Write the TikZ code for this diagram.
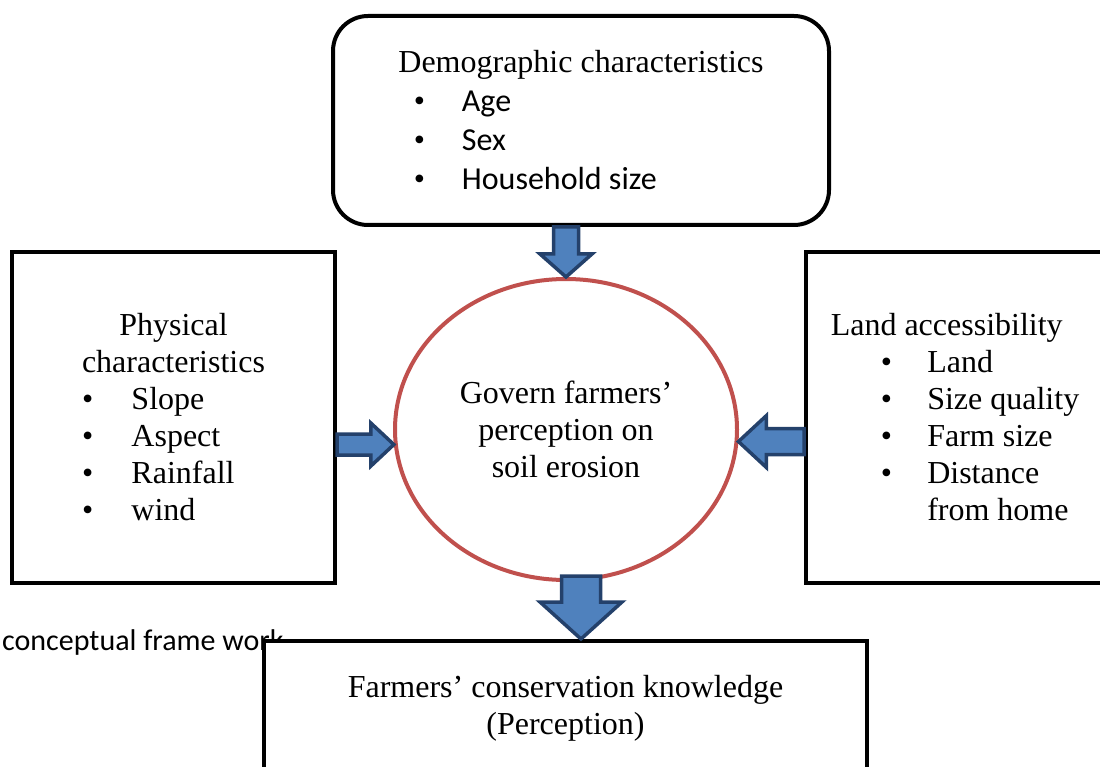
\documentclass[tikz,border=0pt]{standalone}
\usepackage{fontspec}
\setmainfont{Liberation Serif}
\newfontfamily\calibri{Carlito}
\usetikzlibrary{shapes,calc,positioning}
\definecolor{ovalred}{HTML}{C0504D}
\definecolor{arrowfill}{HTML}{4F81BD}
\definecolor{arrowedge}{HTML}{24416B}
\newcommand{\bitem}[3]{\makebox[#1][l]{\hspace{#2}{\rmfamily\textbullet}}#3}
\tikzset{
    box/.style = {draw, line width=4pt, fill=white, rectangle, inner sep=0pt},
    fatarrow/.style n args={3}{draw=arrowedge, fill=arrowfill, line width=3.5pt,
        to path={let \p1=(\tikztostart), \p2=(\tikztotarget), \p3=($(\p1)!1pt!(\p2)$) in
            ({\x1-#1*(\y3-\y1)},{\y1+#1*(\x3-\x1)})
            -- ({\x2-#3*(\x3-\x1)-#1*(\y3-\y1)},{\y2-#3*(\y3-\y1)+#1*(\x3-\x1)})
            -- ({\x2-#3*(\x3-\x1)-#2*(\y3-\y1)},{\y2-#3*(\y3-\y1)+#2*(\x3-\x1)})
            -- (\p2)
            -- ({\x2-#3*(\x3-\x1)+#2*(\y3-\y1)},{\y2-#3*(\y3-\y1)-#2*(\x3-\x1)})
            -- ({\x2-#3*(\x3-\x1)+#1*(\y3-\y1)},{\y2-#3*(\y3-\y1)-#1*(\x3-\x1)})
            -- ({\x1+#1*(\y3-\y1)},{\y1-#1*(\x3-\x1)})
            -- cycle}},
}
\begin{document}
\begin{tikzpicture}[x=1pt, y=-1pt, font=\fontsize{32}{37}\selectfont]
    \useasboundingbox (0,0) rectangle (1100,767);
    \clip (0,0) rectangle (1100,767);

    \node [anchor=base west, inner sep=0pt, font=\calibri\fontsize{30}{37}\selectfont] (caption) at (2,650) {conceptual frame work};
    \node [box, minimum width=603pt, minimum height=135pt, align=center] (goal) at (565.5,708.5) {Farmers’ conservation knowledge\\(Perception)};
    \node [ellipse, draw=ovalred, line width=4pt, fill=white, minimum width=342pt, minimum height=301pt, inner sep=0pt, align=center] (circ) at (566,429.5) {Govern farmers’\\perception on\\soil erosion};
    \node [box, rounded corners=35pt, minimum width=496pt, minimum height=209pt, align=left, font=\fontsize{32}{39}\selectfont] (demo) at (581,120.5)
        {Demographic characteristics\\
         {\calibri\bitem{63.5pt}{15.5pt}{Age}}\\
         {\calibri\bitem{63.5pt}{15.5pt}{Sex}}\\
         {\calibri\bitem{63.5pt}{15.5pt}{Household size}}};
    \node [box, minimum width=323pt, minimum height=331pt, align=center] (phys) at (173.5,417.5)
        {Physical\\characteristics\\
         \makebox[183pt][l]{\bitem{49.5pt}{0pt}{Slope}}\\
         \makebox[183pt][l]{\bitem{49.5pt}{0pt}{Aspect}}\\
         \makebox[183pt][l]{\bitem{49.5pt}{0pt}{Rainfall}}\\
         \makebox[183pt][l]{\bitem{49.5pt}{0pt}{wind}}};
    \node [box, minimum width=298pt, minimum height=331pt, align=left] (land) at (955,417.5)
        {Land accessibility\\
         \bitem{96.5pt}{50pt}{Land}\\
         \bitem{96.5pt}{50pt}{Size quality}\\
         \bitem{96.5pt}{50pt}{Farm size}\\
         \bitem{96.5pt}{50pt}{Distance}\\
         \hspace*{96.5pt}from home};

    \draw [fatarrow={12.5}{26}{23}] (circ.north |- demo.south) to (circ.north);
    \draw [fatarrow={10.5}{21.5}{23}] (phys.east |- circ.185) to (circ.185);
    \draw [fatarrow={13}{26}{28}] (land.west |- circ.-4) to (circ.-4);
    \draw [fatarrow={19.5}{41}{37}] ($(demo.south |- circ.south)+(0,-6)$) to (demo.south |- goal.north);
\end{tikzpicture}
\end{document}
